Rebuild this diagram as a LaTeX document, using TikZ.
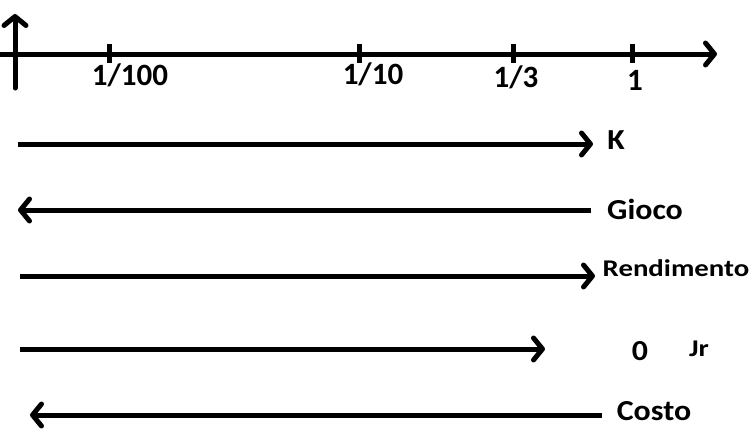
\documentclass[tikz,border=0pt]{standalone}
\usepackage{fontspec}
\setmainfont{Carlito}
\usetikzlibrary{arrows.meta}
\newcommand\wideA[1]{\scalebox{1.1}[1]{#1}}
\newcommand\wideB[1]{\scalebox{1.2}[1]{#1}}
\tikzset{
  thick line/.style={line width=5pt, line cap=round, -{Straight Barb[round,length=9pt,width=22pt]}},
  tickmark/.style={line width=5pt},
  axlabel/.style={font=\bfseries\fontsize{31}{31}\selectfont, inner sep=0pt},
  rowlabel/.style={font=\bfseries\fontsize{29}{29}\selectfont, inner sep=0pt},
  smalllabel/.style={font=\bfseries\fontsize{24}{24}\selectfont, inner sep=0pt}
}
\begin{document}
\begin{tikzpicture}[x=1pt,y=-1pt]
\useasboundingbox (0,0) rectangle (754,442);
% axes
\coordinate (ox) at (0,54);
\coordinate (ex) at (717,54);
\coordinate (oy) at (15,88);
\coordinate (ey) at (15,14);
\draw[thick line, line cap=butt] (ox) -- (ex);
\draw[thick line] (oy) -- (ey);
% ticks
\foreach \n/\x in {a/109,b/359,c/513,d/632}{
  \coordinate (t\n1) at (\x,44);
  \coordinate (t\n2) at (\x,63);
  \draw[tickmark] (t\n1) -- (t\n2);
}
\node[axlabel] (l100) at (130,75) {1/100};
\node[axlabel] (l10) at (373,74) {1/10};
\node[axlabel] (l3) at (516,77) {1/3};
\node[axlabel] (l1) at (635,80) {1};
% rows
\coordinate (k1) at (18,144);
\coordinate (k2) at (593,144);
\draw[thick line, line cap=butt] (k1) -- (k2);
\node[rowlabel] (K) at (616,140) {\wideA{K}};

\coordinate (g1) at (591,210);
\coordinate (g2) at (18,210);
\draw[thick line, line cap=butt] (g1) -- (g2);
\node[rowlabel] (G) at (645,209) {\wideA{Gioco}};

\coordinate (r1) at (20,276);
\coordinate (r2) at (595,276);
\draw[thick line, line cap=butt] (r1) -- (r2);
\node[smalllabel] (R) at (676,268) {\wideB{Rendimento}};

\coordinate (z1) at (20,349);
\coordinate (z2) at (545,349);
\draw[thick line, line cap=butt] (z1) -- (z2);
\node[rowlabel] (Z) at (640,351) {\wideA{0}};
\node[smalllabel] (J) at (699,349) {\wideB{Jr}};

\coordinate (c1) at (602,415);
\coordinate (c2) at (30,415);
\draw[thick line, line cap=butt] (c1) -- (c2);
\node[rowlabel] (C) at (654,411) {\wideA{Costo}};
\end{tikzpicture}
\end{document}
